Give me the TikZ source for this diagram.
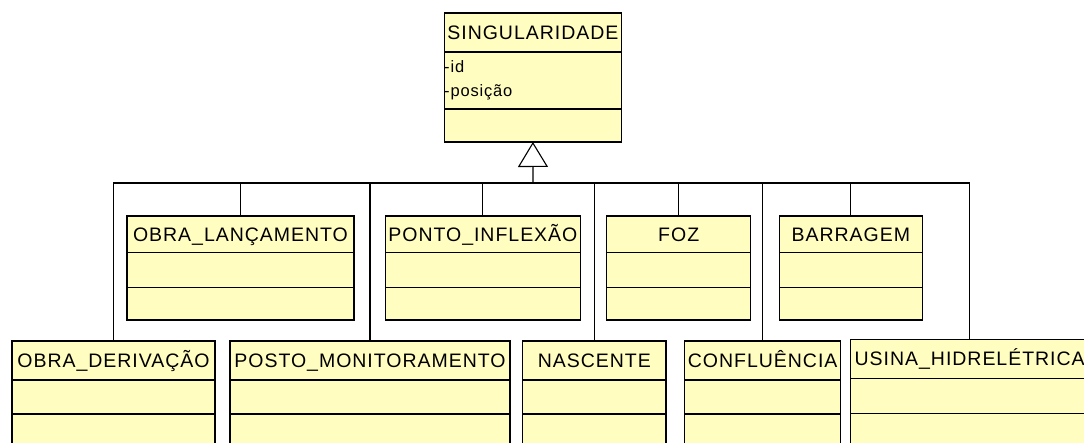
\documentclass[tikz,border=0pt]{standalone}
\usepackage{fontspec}
\setmainfont{Liberation Sans}[LetterSpace=5]
\usetikzlibrary{positioning,arrows.meta}
\definecolor{amarelo}{RGB}{255,253,192}

\begin{document}
\begin{tikzpicture}
[
  x = 1pt, y = -1pt,
  caixa/.style 2 args = {shape=rectangle, draw, fill=amarelo, line width=1.1pt,
                         inner sep=0pt, outer sep=0pt,
                         minimum width=#1, minimum height=#2},
  nome/.style 2 args  = {caixa={#1}{#2}, text height=14pt, text depth=0pt,
                         font=\fontsize{19.5}{21}\selectfont},
  atributo/.style     = {inner sep=0pt, anchor=base west,
                         font=\fontsize{16.5}{18}\selectfont},
  linha/.style        = {draw, line width=1.1pt},
  heranca/.style      = {linha, -{Triangle[open, width=30pt, length=25pt]}}
]
\useasboundingbox (0,0) rectangle (1084,443);
\clip (0,0) rectangle (1084,443);

% superclasse
\node [nome={177.7}{39}, anchor=north] (sing) at (532.9,13) {SINGULARIDADE};
\node [caixa={177.7}{57}, below=0pt of sing] (singat) {};
\node [caixa={177.7}{33}, below=0pt of singat] (singop) {};
\node [atributo] (id) at (444,73) {-id};
\node [atributo] (pos) at (444,97) {-posição};

% linha de cima
\node [nome={227}{36.7}, anchor=north] (lanc) at (240.5,216) {OBRA\_LANÇAMENTO};
\node [caixa={227}{35}, below=0pt of lanc] (lancat) {};
\node [caixa={227}{32.3}, below=0pt of lancat] (lancop) {};

\node [nome={194.3}{36.7}, anchor=north] (infl) at (482.9,216) {PONTO\_INFLEXÃO};
\node [caixa={194.3}{35}, below=0pt of infl] (inflat) {};
\node [caixa={194.3}{32.3}, below=0pt of inflat] (inflop) {};

\node [nome={144}{36.7}, anchor=north] (foz) at (678.7,216) {FOZ};
\node [caixa={144}{35}, below=0pt of foz] (fozat) {};
\node [caixa={144}{32.3}, below=0pt of fozat] (fozop) {};

\node [nome={143}{36.7}, anchor=north] (barr) at (850.8,216) {BARRAGEM};
\node [caixa={143}{35}, below=0pt of barr] (barrat) {};
\node [caixa={143}{32.3}, below=0pt of barrat] (barrop) {};

% linha de baixo
\node [nome={203}{39}, anchor=north] (deriv) at (113.5,341) {OBRA\_DERIVAÇÃO};
\node [caixa={203}{34}, below=0pt of deriv] (derivat) {};
\node [caixa={203}{40}, below=0pt of derivat] (derivop) {};

\node [nome={280}{39}, anchor=north] (posto) at (370,341) {POSTO\_MONITORAMENTO};
\node [caixa={280}{34}, below=0pt of posto] (postoat) {};
\node [caixa={280}{40}, below=0pt of postoat] (postoop) {};

\node [nome={143.3}{39}, anchor=north] (nasc) at (594.3,341) {NASCENTE};
\node [caixa={143.3}{34}, below=0pt of nasc] (nascat) {};
\node [caixa={143.3}{40}, below=0pt of nascat] (nascop) {};

\node [nome={156}{39}, anchor=north] (conf) at (762.7,341) {CONFLUÊNCIA};
\node [caixa={156}{34}, below=0pt of conf] (confat) {};
\node [caixa={156}{40}, below=0pt of confat] (confop) {};

\node [nome={238}{39}, anchor=north] (usina) at (969.7,339.3) {USINA\_HIDRELÉTRICA};
\node [caixa={238}{35}, below=0pt of usina] (usinaat) {};
\node [caixa={238}{40}, below=0pt of usinaat] (usinaop) {};

% generalizacao
\coordinate (barra) at (533,183);
\draw [heranca] (barra) -- (singop.south);
\draw [linha] (deriv.north) |- (barra);
\draw [linha] (lanc.north)  |- (barra);
\draw [linha] (posto.north) |- (barra);
\draw [linha] (infl.north)  |- (barra);
\draw [linha] (nasc.north)  |- (barra);
\draw [linha] (foz.north)   |- (barra);
\draw [linha] (conf.north)  |- (barra);
\draw [linha] (barr.north)  |- (barra);
\draw [linha] (usina.north) |- (barra);
\end{tikzpicture}
\end{document}
